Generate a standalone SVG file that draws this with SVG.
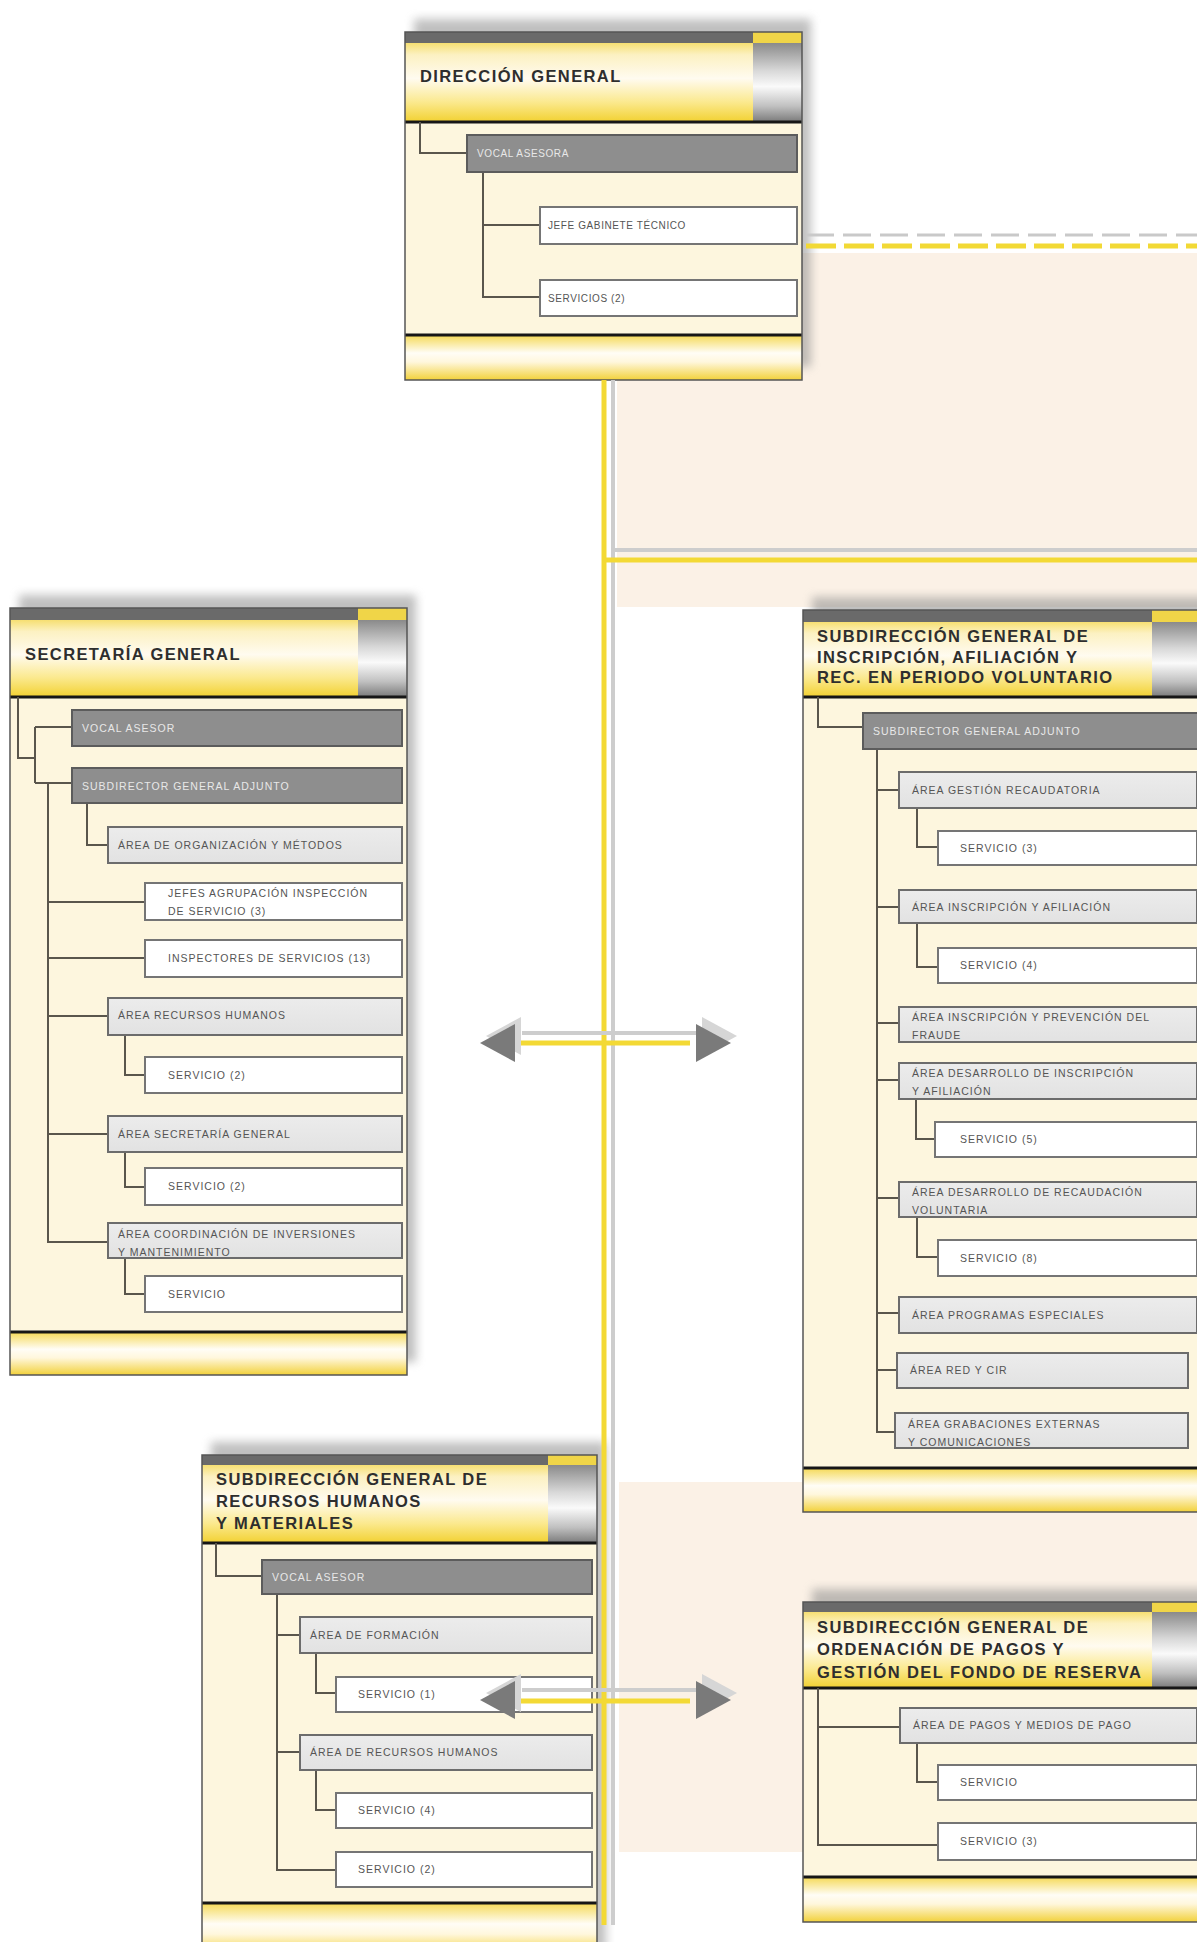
<svg xmlns="http://www.w3.org/2000/svg" xmlns:xlink="http://www.w3.org/1999/xlink" width="1197" height="1942" viewBox="0 0 1197 1942">
<defs>
<linearGradient id="hdr" x1="0" y1="0" x2="0" y2="1">
<stop offset="0" stop-color="#f6df72"/><stop offset="0.15" stop-color="#fcf1c2"/><stop offset="0.45" stop-color="#fffbf0"/><stop offset="0.75" stop-color="#fbe98e"/><stop offset="1" stop-color="#f2d131"/>
</linearGradient>
<linearGradient id="ftr" x1="0" y1="0" x2="0" y2="1">
<stop offset="0" stop-color="#f5d955"/><stop offset="0.4" stop-color="#fffdf6"/><stop offset="0.6" stop-color="#fff7dc"/><stop offset="1" stop-color="#f2d13a"/>
</linearGradient>
<linearGradient id="gblk" x1="0" y1="0" x2="0" y2="1">
<stop offset="0" stop-color="#8a8a8a"/><stop offset="0.35" stop-color="#d8d8d8"/><stop offset="0.55" stop-color="#fafafa"/><stop offset="0.8" stop-color="#c0c0c0"/><stop offset="1" stop-color="#7a7a7a"/>
</linearGradient>
<linearGradient id="ltg" x1="0" y1="0" x2="0" y2="1">
<stop offset="0" stop-color="#ececec"/><stop offset="1" stop-color="#e2e2e2"/>
</linearGradient>
<filter id="blur" x="-10%" y="-10%" width="120%" height="120%"><feGaussianBlur stdDeviation="5"/></filter>
<polygon id="ahL" points="0,0 35,-19 35,19"/>
<polygon id="ahR" points="0,0 -35,-19 -35,19"/>
</defs>
<style>
.peach{fill:#fbf1e6}
.shd{fill:#8c8c8c;opacity:.55}
.body{fill:#fdf6de}
.frame{fill:none;stroke:#555;stroke-width:1.5}
.bar{fill:#6a6a6a}
.ybit{fill:#f0d548}
.blk{stroke:#161616;stroke-width:3}
.ttl{font-family:"Liberation Sans",Arial,sans-serif;font-weight:bold;font-size:16.5px;letter-spacing:1.4px;fill:#2e2e2e}
.dk{fill:#8e8e8e;stroke:#5c5c5c;stroke-width:2}
.lt{fill:url(#ltg);stroke:#6c6c6c;stroke-width:2}
.wh{fill:#ffffff;stroke:#757575;stroke-width:2}
.t{font-family:"Liberation Sans",Arial,sans-serif;font-size:10.5px;letter-spacing:1px;fill:#555555}
.td{font-family:"Liberation Sans",Arial,sans-serif;font-size:10.5px;letter-spacing:1px;fill:#e8e8e8}
.ts{font-size:10px;letter-spacing:0.6px}
.cn{fill:none;stroke:#5a564c;stroke-width:2}
.my{fill:none;stroke:#f3d935;stroke-width:5}
.mg{fill:none;stroke:#cdcdcd;stroke-width:4}
.ah{fill:#7a7a7a}
.ahs{fill:#d6d6d6}
</style>

<rect class="peach" x="617" y="253" width="580" height="354"/>
<rect class="peach" x="619" y="1482" width="578" height="370"/>

<g id="n-direccion">
<rect class="shd" x="414" y="19" width="397" height="348" filter="url(#blur)"/>
<rect class="body" x="405" y="32" width="397" height="348"/>
<rect class="bar" x="405" y="32" width="348" height="11"/>
<rect class="ybit" x="753" y="32" width="49" height="11"/>
<rect x="405" y="43" width="348" height="79" fill="url(#hdr)"/>
<rect x="753" y="43" width="49" height="79" fill="url(#gblk)"/>
<rect x="405" y="335" width="397" height="45" fill="url(#ftr)"/>
<line class="blk" x1="405" y1="122" x2="802" y2="122"/>
<line class="blk" x1="405" y1="335" x2="802" y2="335"/>
<rect class="frame" x="405" y="32" width="397" height="348"/>
<text class="ttl" x="420" y="82">DIRECCIÓN GENERAL</text>
<path class="cn" d="M420,122 V153 H467 M483,172 V297 H540 M483,225 H540"/>
<g id="d-vocal"><rect class="dk" x="467" y="135" width="330" height="37"/><text class="td ts" x="477" y="157">VOCAL ASESORA</text></g>
<g id="d-jefe"><rect class="wh" x="540" y="207" width="257" height="37"/><text class="t ts" x="548" y="229">JEFE GABINETE TÉCNICO</text></g>
<g id="d-serv"><rect class="wh" x="540" y="280" width="257" height="36"/><text class="t ts" x="548" y="302">SERVICIOS (2)</text></g>
</g>

<g id="n-secretaria">
<rect class="shd" x="19" y="595" width="397" height="767" filter="url(#blur)"/>
<rect class="body" x="10" y="608" width="397" height="767"/>
<rect class="bar" x="10" y="608" width="348" height="12"/>
<rect class="ybit" x="358" y="608" width="49" height="12"/>
<rect x="10" y="620" width="348" height="77" fill="url(#hdr)"/>
<rect x="358" y="620" width="49" height="77" fill="url(#gblk)"/>
<rect x="10" y="1332" width="397" height="43" fill="url(#ftr)"/>
<line class="blk" x1="10" y1="697" x2="407" y2="697"/>
<line class="blk" x1="10" y1="1332" x2="407" y2="1332"/>
<rect class="frame" x="10" y="608" width="397" height="767"/>
<text class="ttl" x="25" y="660">SECRETARÍA GENERAL</text>
<path class="cn" d="M18,697 V758 H35 M35,727 V783 M35,727 H72 M35,783 H72 M48,783 V1242 H108 M48,902 H145 M48,958 H145 M48,1016 H108 M48,1134 H108 M87,803 V845 H108 M125,1035 V1075 H145 M125,1152 V1187 H145 M125,1258 V1294 H145"/>
<g id="s-vocal"><rect class="dk" x="72" y="710" width="330" height="36"/><text class="td" x="82" y="732">VOCAL ASESOR</text></g>
<g id="s-subdir"><rect class="dk" x="72" y="768" width="330" height="35"/><text class="td" x="82" y="790">SUBDIRECTOR GENERAL ADJUNTO</text></g>
<g id="s-organiz"><rect class="lt" x="108" y="827" width="294" height="36"/><text class="t" x="118" y="849">ÁREA DE ORGANIZACIÓN Y MÉTODOS</text></g>
<g id="s-jefes"><rect class="wh" x="145" y="883" width="257" height="37"/><text class="t" x="168" y="897">JEFES AGRUPACIÓN INSPECCIÓN</text><text class="t" x="168" y="915">DE SERVICIO (3)</text></g>
<g id="s-inspect"><rect class="wh" x="145" y="940" width="257" height="37"/><text class="t" x="168" y="962">INSPECTORES DE SERVICIOS (13)</text></g>
<g id="s-rrhh"><rect class="lt" x="108" y="998" width="294" height="37"/><text class="t" x="118" y="1019">ÁREA RECURSOS HUMANOS</text></g>
<g id="s-serv1"><rect class="wh" x="145" y="1057" width="257" height="36"/><text class="t" x="168" y="1079">SERVICIO (2)</text></g>
<g id="s-secgen"><rect class="lt" x="108" y="1116" width="294" height="36"/><text class="t" x="118" y="1138">ÁREA SECRETARÍA GENERAL</text></g>
<g id="s-serv2"><rect class="wh" x="145" y="1168" width="257" height="37"/><text class="t" x="168" y="1190">SERVICIO (2)</text></g>
<g id="s-coord"><rect class="lt" x="108" y="1223" width="294" height="35"/><text class="t" x="118" y="1238">ÁREA COORDINACIÓN DE INVERSIONES</text><text class="t" x="118" y="1256">Y MANTENIMIENTO</text></g>
<g id="s-serv3"><rect class="wh" x="145" y="1276" width="257" height="36"/><text class="t" x="168" y="1298">SERVICIO</text></g>
</g>

<g id="n-inscripcion">
<rect class="shd" x="812" y="597" width="398" height="902" filter="url(#blur)"/>
<rect class="body" x="803" y="610" width="398" height="902"/>
<rect class="bar" x="803" y="610" width="349" height="12"/>
<rect class="ybit" x="1152" y="610" width="49" height="12"/>
<rect x="803" y="622" width="349" height="75" fill="url(#hdr)"/>
<rect x="1152" y="622" width="49" height="75" fill="url(#gblk)"/>
<rect x="803" y="1468" width="398" height="44" fill="url(#ftr)"/>
<line class="blk" x1="803" y1="697" x2="1201" y2="697"/>
<line class="blk" x1="803" y1="1468" x2="1201" y2="1468"/>
<rect class="frame" x="803" y="610" width="398" height="902"/>
<text class="ttl" x="817" y="642">SUBDIRECCIÓN GENERAL DE</text>
<text class="ttl" x="817" y="663">INSCRIPCIÓN, AFILIACIÓN Y</text>
<text class="ttl" x="817" y="683">REC. EN PERIODO VOLUNTARIO</text>
<path class="cn" d="M818,697 V727 H863 M877,749 V1432 H895 M877,790 H899 M877,907 H899 M877,1023 H899 M877,1080 H899 M877,1198 H899 M877,1313 H899 M877,1370 H897 M917,808 V847 H938 M917,923 V967 H938 M916,1099 V1139 H935 M917,1217 V1257 H938"/>
<g id="i-subdir"><rect class="dk" x="863" y="713" width="338" height="36"/><text class="td" x="873" y="735">SUBDIRECTOR GENERAL ADJUNTO</text></g>
<g id="i-gestion"><rect class="lt" x="899" y="772" width="298" height="36"/><text class="t" x="912" y="794">ÁREA GESTIÓN RECAUDATORIA</text></g>
<g id="i-serv1"><rect class="wh" x="938" y="831" width="259" height="34"/><text class="t" x="960" y="852">SERVICIO (3)</text></g>
<g id="i-inscrip"><rect class="lt" x="899" y="890" width="298" height="33"/><text class="t" x="912" y="911">ÁREA INSCRIPCIÓN Y AFILIACIÓN</text></g>
<g id="i-serv2"><rect class="wh" x="938" y="948" width="259" height="35"/><text class="t" x="960" y="969">SERVICIO (4)</text></g>
<g id="i-fraude"><rect class="lt" x="899" y="1007" width="298" height="35"/><text class="t" x="912" y="1021">ÁREA INSCRIPCIÓN Y PREVENCIÓN DEL</text><text class="t" x="912" y="1039">FRAUDE</text></g>
<g id="i-desins"><rect class="lt" x="899" y="1063" width="298" height="36"/><text class="t" x="912" y="1077">ÁREA DESARROLLO DE INSCRIPCIÓN</text><text class="t" x="912" y="1095">Y AFILIACIÓN</text></g>
<g id="i-serv3"><rect class="wh" x="935" y="1122" width="262" height="35"/><text class="t" x="960" y="1143">SERVICIO (5)</text></g>
<g id="i-desrec"><rect class="lt" x="899" y="1182" width="298" height="35"/><text class="t" x="912" y="1196">ÁREA DESARROLLO DE RECAUDACIÓN</text><text class="t" x="912" y="1214">VOLUNTARIA</text></g>
<g id="i-serv4"><rect class="wh" x="938" y="1240" width="259" height="36"/><text class="t" x="960" y="1262">SERVICIO (8)</text></g>
<g id="i-progr"><rect class="lt" x="899" y="1297" width="298" height="36"/><text class="t" x="912" y="1319">ÁREA PROGRAMAS ESPECIALES</text></g>
<g id="i-red"><rect class="lt" x="897" y="1353" width="291" height="35"/><text class="t" x="910" y="1374">ÁREA RED Y CIR</text></g>
<g id="i-grab"><rect class="lt" x="895" y="1413" width="293" height="35"/><text class="t" x="908" y="1428">ÁREA GRABACIONES EXTERNAS</text><text class="t" x="908" y="1446">Y COMUNICACIONES</text></g>
</g>

<g id="n-rrhh">
<rect class="shd" x="211" y="1442" width="395" height="508" filter="url(#blur)"/>
<rect class="body" x="202" y="1455" width="395" height="500"/>
<rect class="bar" x="202" y="1455" width="346" height="10"/>
<rect class="ybit" x="548" y="1455" width="49" height="10"/>
<rect x="202" y="1465" width="346" height="78" fill="url(#hdr)"/>
<rect x="548" y="1465" width="49" height="78" fill="url(#gblk)"/>
<rect x="202" y="1903" width="395" height="52" fill="url(#ftr)"/>
<line class="blk" x1="202" y1="1543" x2="597" y2="1543"/>
<line class="blk" x1="202" y1="1903" x2="597" y2="1903"/>
<rect class="frame" x="202" y="1455" width="395" height="500"/>
<text class="ttl" x="216" y="1485">SUBDIRECCIÓN GENERAL DE</text>
<text class="ttl" x="216" y="1507">RECURSOS HUMANOS</text>
<text class="ttl" x="216" y="1529">Y MATERIALES</text>
<path class="cn" d="M216,1543 V1576 H262 M277,1594 V1870 H336 M277,1635 H300 M277,1752 H300 M316,1653 V1693 H336 M316,1770 V1810 H336"/>
<g id="r-vocal"><rect class="dk" x="262" y="1560" width="330" height="34"/><text class="td" x="272" y="1581">VOCAL ASESOR</text></g>
<g id="r-form"><rect class="lt" x="300" y="1617" width="292" height="36"/><text class="t" x="310" y="1639">ÁREA DE FORMACIÓN</text></g>
<g id="r-serv1"><rect class="wh" x="336" y="1677" width="256" height="35"/><text class="t" x="358" y="1698">SERVICIO (1)</text></g>
<g id="r-rrhh"><rect class="lt" x="300" y="1735" width="292" height="35"/><text class="t" x="310" y="1756">ÁREA DE RECURSOS HUMANOS</text></g>
<g id="r-serv2"><rect class="wh" x="336" y="1793" width="256" height="35"/><text class="t" x="358" y="1814">SERVICIO (4)</text></g>
<g id="r-serv3"><rect class="wh" x="336" y="1852" width="256" height="35"/><text class="t" x="358" y="1873">SERVICIO (2)</text></g>
</g>

<g id="n-ordenacion">
<rect class="shd" x="812" y="1589" width="398" height="320" filter="url(#blur)"/>
<rect class="body" x="803" y="1602" width="398" height="320"/>
<rect class="bar" x="803" y="1602" width="349" height="10"/>
<rect class="ybit" x="1152" y="1602" width="49" height="10"/>
<rect x="803" y="1612" width="349" height="76" fill="url(#hdr)"/>
<rect x="1152" y="1612" width="49" height="76" fill="url(#gblk)"/>
<rect x="803" y="1877" width="398" height="45" fill="url(#ftr)"/>
<line class="blk" x1="803" y1="1688" x2="1201" y2="1688"/>
<line class="blk" x1="803" y1="1877" x2="1201" y2="1877"/>
<rect class="frame" x="803" y="1602" width="398" height="320"/>
<text class="ttl" x="817" y="1633">SUBDIRECCIÓN GENERAL DE</text>
<text class="ttl" x="817" y="1655">ORDENACIÓN DE PAGOS Y</text>
<text class="ttl" x="817" y="1678">GESTIÓN DEL FONDO DE RESERVA</text>
<path class="cn" d="M818,1688 V1845 H938 M818,1727 H900 M917,1743 V1782 H938"/>
<g id="o-pagos"><rect class="lt" x="900" y="1708" width="297" height="35"/><text class="t" x="913" y="1729">ÁREA DE PAGOS Y MEDIOS DE PAGO</text></g>
<g id="o-serv1"><rect class="wh" x="938" y="1765" width="259" height="35"/><text class="t" x="960" y="1786">SERVICIO</text></g>
<g id="o-serv2"><rect class="wh" x="938" y="1823" width="259" height="37"/><text class="t" x="960" y="1845">SERVICIO (3)</text></g>
</g>

<g id="connectors">
<line class="mg" x1="613" y1="380" x2="613" y2="1925"/>
<line class="my" x1="604" y1="380" x2="604" y2="1925"/>
<line class="mg" x1="615" y1="550" x2="1197" y2="550"/>
<line class="my" x1="604" y1="560" x2="1197" y2="560"/>
<line x1="806" y1="235" x2="1197" y2="235" stroke="#c9c9c9" stroke-width="3" stroke-dasharray="28 9"/>
<line x1="806" y1="246" x2="1197" y2="246" stroke="#f2d935" stroke-width="5" stroke-dasharray="30 8"/>
<g id="arrow-upper">
<line class="mg" x1="522" y1="1033" x2="700" y2="1033"/>
<line class="my" x1="518" y1="1043" x2="690" y2="1043"/>
<use href="#ahL" xlink:href="#ahL" class="ahs" x="486" y="1036"/>
<use href="#ahL" xlink:href="#ahL" class="ah" x="480" y="1043"/>
<use href="#ahR" xlink:href="#ahR" class="ahs" x="737" y="1036"/>
<use href="#ahR" xlink:href="#ahR" class="ah" x="731" y="1043"/>
</g>
<g id="arrow-lower">
<line class="mg" x1="522" y1="1690" x2="700" y2="1690"/>
<line class="my" x1="518" y1="1701" x2="690" y2="1701"/>
<use href="#ahL" xlink:href="#ahL" class="ahs" x="486" y="1693"/>
<use href="#ahL" xlink:href="#ahL" class="ah" x="480" y="1700"/>
<use href="#ahR" xlink:href="#ahR" class="ahs" x="737" y="1693"/>
<use href="#ahR" xlink:href="#ahR" class="ah" x="731" y="1700"/>
</g>
</g>
</svg>
